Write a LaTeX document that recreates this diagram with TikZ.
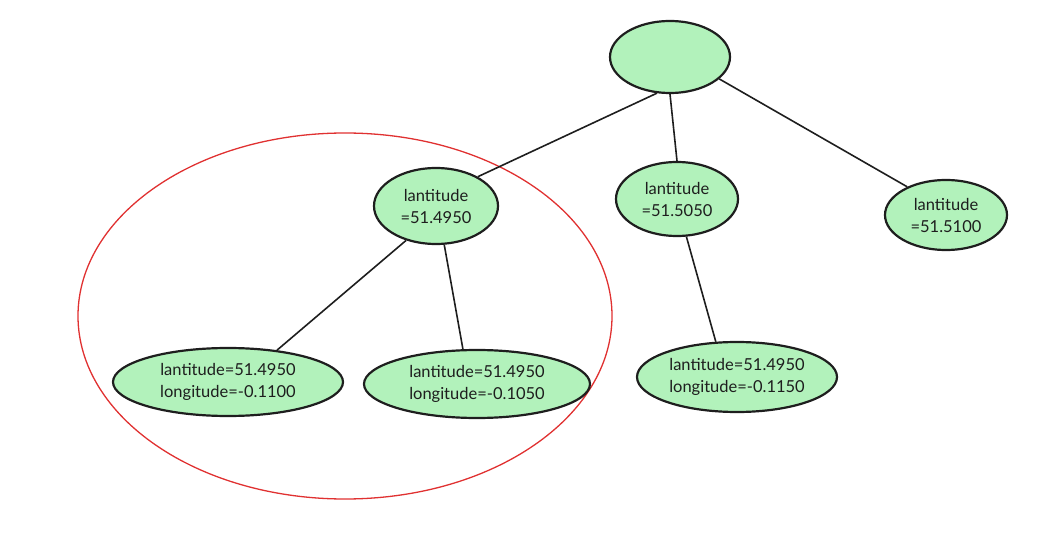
\documentclass[tikz,border=0pt]{standalone}
\usepackage{fontspec}
\setmainfont{Lato}
\usetikzlibrary{shapes.geometric}
\definecolor{nodegreen}{HTML}{B2F2BB}
\definecolor{strokedark}{HTML}{1E1E1E}
\definecolor{groupred}{HTML}{E03131}
\begin{document}
\begin{tikzpicture}[x=1pt,y=-1pt,
  treenode/.style={ellipse, draw=strokedark, line width=2.2pt, fill=nodegreen,
    inner sep=0pt, align=center, font=\fontsize{16.5}{22}\selectfont, text=strokedark},
  edge/.style={draw=strokedark, line width=1.6pt},
  groupring/.style={ellipse, draw=groupred, line width=1.3pt, inner sep=0pt}]
\useasboundingbox (0,0) rectangle (1062,534);
\node[groupring, minimum width=534pt, minimum height=366pt] (grp) at (345,316) {};
\node[treenode, minimum width=120pt, minimum height=72pt] (root) at (670,57) {};
\node[treenode, minimum width=124pt, minimum height=76pt] (a) at (436,206) {lantitude\\=51.4950};
\node[treenode, minimum width=122pt, minimum height=74pt] (b) at (677,199) {lantitude\\=51.5050};
\node[treenode, minimum width=122pt, minimum height=70pt] (c) at (946,215) {lantitude\\=51.5100};
\node[treenode, minimum width=230pt, minimum height=68pt] (d) at (228,382) {lantitude=51.4950\\longitude=-0.1100};
\node[treenode, minimum width=226pt, minimum height=68pt] (e) at (477,384) {lantitude=51.4950\\longitude=-0.1050};
\node[treenode, minimum width=200pt, minimum height=70pt] (f) at (737,377) {lantitude=51.4950\\longitude=-0.1150};
\draw[edge] (root.250) -- (a.35);
\draw[edge] (root.south) -- (b.north);
\draw[edge] (root.336) -- (c.144);
\draw[edge] (a.229) -- (d.33);
\draw[edge] (a.282) -- (e.112);
\draw[edge] (b.284) -- (f.121);
\end{tikzpicture}
\end{document}
